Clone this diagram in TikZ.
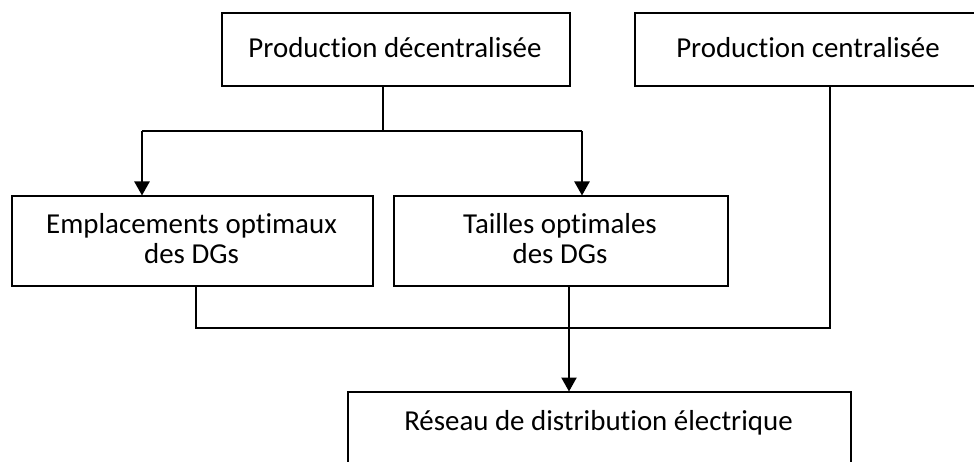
\documentclass[tikz,border=0pt]{standalone}
\usepackage{fontspec}
\setmainfont[Ligatures=NoCommon]{Carlito}
\usetikzlibrary{arrows.meta}
\begin{document}
\begin{tikzpicture}[x=1pt,y=-1pt,
  box/.style={draw, line width=2pt, inner sep=0pt, anchor=north west},
  label text/.style={inner sep=0pt, anchor=base, align=center,
    font=\fontsize{28.9pt}{30pt}\selectfont},
  link/.style={line width=1.7pt},
  arrowlink/.style={line width=2.3pt, -{Triangle[width=15pt,length=14pt]}, shorten >=-0.5pt}]
  \useasboundingbox (0,0) rectangle (974,462);

  % boxes
  \node[box, minimum width=348pt, minimum height=73pt] (dec) at (221,12) {};
  \node[box, minimum width=348pt, minimum height=73pt] (cen) at (634,12) {};
  \node[box, minimum width=361pt, minimum height=90pt] (empl) at (11,195) {};
  \node[box, minimum width=334pt, minimum height=90pt] (taille) at (393,195) {};
  \node[box, minimum width=503pt, minimum height=90pt] (res) at (347,391) {};

  % texts (base anchor of a two-line node sits on its last line)
  \node[label text] (dect) at (395,58) {Production décentralisée};
  \node[label text] (cent) at (808,58) {Production centralisée};
  \node[label text] (emplt) at (191.5,264) {Emplacements optimaux\\des DGs};
  \node[label text] (taillet) at (560,264) {Tailles optimales\\des DGs};
  \node[label text] (rest) at (598.5,430) {Réseau de distribution électrique};

  % junction points
  \coordinate (split) at (383,131);
  \coordinate (splitL) at (142,131);
  \coordinate (splitR) at (582,131);
  \coordinate (mergeL) at (196,328);
  \coordinate (mergeM) at (569,328);
  \coordinate (mergeR) at (830,328);

  % decentralised production feeds both optimisation blocks
  \draw[link] (dec.south -| split) -- (split);
  \draw[link] (splitL) -- (splitR);
  \draw[arrowlink] (splitL) -- (splitL |- empl.north);
  \draw[arrowlink] (splitR) -- (splitR |- taille.north);

  % all sources merge into the distribution network
  \draw[link] (empl.south -| mergeL) -- (mergeL) -- (mergeR) -- (cen.south -| mergeR);
  \draw[link] (taille.south -| mergeM) -- (mergeM);
  \draw[arrowlink] (mergeM) -- (mergeM |- res.north);
\end{tikzpicture}
\end{document}
